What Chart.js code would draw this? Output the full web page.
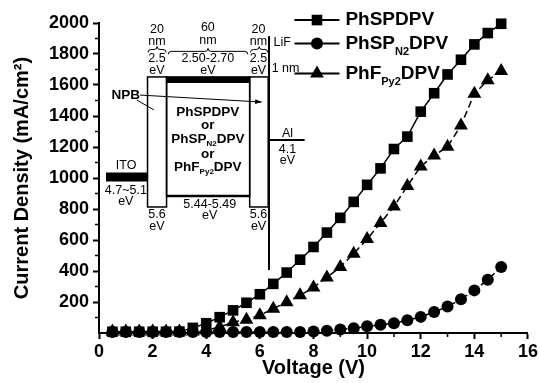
<!DOCTYPE html>
<html>
<head>
<meta charset="utf-8">
<script src="https://cdn.jsdelivr.net/npm/chart.js@4/dist/chart.umd.min.js"></script>
<style>
html, body { margin: 0; padding: 0; background: #fff; }
#wrap { width: 540px; height: 383px; position: relative; }
</style>
</head>
<body>
<div id="wrap"><canvas id="chartJV"></canvas></div>
<script>
// voltaje (V) y densidad de corriente (mA/cm2)
const voltaje = [0.5, 1, 1.5, 2, 2.5, 3, 3.5, 4, 4.5, 5, 5.5, 6, 6.5, 7, 7.5,
                 8, 8.5, 9, 9.5, 10, 10.5, 11, 11.5, 12, 12.5, 13, 13.5, 14, 14.5, 15];
const phSPDPV = [8, 8, 8, 8, 8, 9, 33, 63, 102, 146, 195, 250, 317, 390, 473,
                 555, 648, 743, 846, 956, 1062, 1187, 1267, 1428, 1547, 1668, 1763, 1862, 1935, 1995];
const phSPN2DPV = [6, 6, 6, 6, 6, 6, 6, 6, 6, 6, 6, 6, 6, 6, 6,
                   10, 15, 22, 31, 43, 53, 63, 82, 104, 135, 171, 217, 275, 344, 426];
const phFPy2DPV = [10, 10, 10, 10, 10, 10, 10, 18, 38, 70, 86, 115, 157, 199, 243,
                   294, 358, 426, 512, 606, 710, 816, 948, 1075, 1145, 1202, 1339, 1544, 1631, 1690];

const nombres = ['PhSPDPV', 'PhSP_{N2}DPV', 'PhF_{Py2}DPV'];
const ticksX = [0, 2, 4, 6, 8, 10, 12, 14, 16];
const ticksY = [200, 400, 600, 800, 1000, 1200, 1400, 1600, 1800, 2000];

// diagrama de niveles de energia (en unidades de los ejes)
const insetCajas = [[1.81, 1652, 2.52, 813], [2.52, 1652, 5.62, 884], [5.62, 1652, 6.31, 813]];
const insetLineas = [
  [0.26, 1006, 1.79, 1006, 9],
  [2.52, 1632, 5.62, 1632, 6],
  [2.52, 884, 5.62, 884, 2.5],
  [6.34, 1915, 6.34, 406, 2],
  [6.34, 1245, 7.67, 1245, 2],
  [1.41, 1503, 2.05, 1439, 1]
];
const insetLlaves = [[1.83, 2.5, 1829], [2.58, 5.55, 1817], [5.65, 6.3, 1829]];
const insetTextos = [
  ['ITO', 1.01, 1081, 'n'], ['4.7~5.1', 1.0, 919, 'n'], ['eV', 1.0, 845, 'n'],
  ['20', 2.16, 1955, 'n'], ['nm', 2.16, 1879, 'n'], ['2.5', 2.16, 1771, 'n'], ['eV', 2.16, 1694, 'n'],
  ['60', 4.06, 1968, 'n'], ['nm', 4.06, 1888, 'n'], ['2.50-2.70', 4.06, 1771, 'n'], ['eV', 4.06, 1694, 'n'],
  ['20', 5.95, 1955, 'n'], ['nm', 5.95, 1879, 'n'], ['2.5', 5.95, 1771, 'n'], ['eV', 5.95, 1694, 'n'],
  ['Al', 7.03, 1290, 'n'], ['4.1', 7.03, 1181, 'n'], ['eV', 7.03, 1110, 'n'],
  ['5.6', 2.16, 761, 'n'], ['eV', 2.16, 684, 'n'],
  ['5.44-5.49', 4.13, 826, 'n'], ['eV', 4.13, 755, 'n'],
  ['5.6', 5.95, 761, 'n'], ['eV', 5.95, 684, 'n'],
  ['NPB', 1.0, 1535, 'b'],
  ['PhSPDPV', 4.06, 1425, 'b'], ['or', 4.06, 1337, 'b'], ['PhSP_{N2}DPV', 4.06, 1250, 'b'],
  ['or', 4.06, 1155, 'b'], ['PhF_{Py2}DPV', 4.06, 1068, 'b']
];
const insetIzq = [['LiF', 6.51, 1874], ['1 nm', 6.44, 1706]];
const leyendaFilas = [2019, 1868, 1674];

const FUENTE = '"Liberation Sans", Arial, sans-serif';

function puntos(vals) {
  return voltaje.map((v, i) => ({ x: v, y: vals[i] }));
}

function partes(s) {
  const out = [];
  const re = /_\{([^}]*)\}/g;
  let last = 0, m;
  while ((m = re.exec(s))) {
    if (m.index > last) out.push({ t: s.slice(last, m.index), sub: false });
    out.push({ t: m[1], sub: true });
    last = re.lastIndex;
  }
  if (last < s.length) out.push({ t: s.slice(last), sub: false });
  return out;
}

function textoRico(ctx, s, x, y, size, bold, align, bajada) {
  const p = partes(s);
  const f = sz => `${bold ? 'bold ' : ''}${sz}px ${FUENTE}`;
  const subSz = Math.round(size * 0.6);
  const off = size * (bajada || 0.45);
  let w = 0;
  p.forEach(q => { ctx.font = f(q.sub ? subSz : size); q.w = ctx.measureText(q.t).width; w += q.w; });
  let cx = align === 'center' ? x - w / 2 : (align === 'right' ? x - w : x);
  ctx.textBaseline = 'middle';
  ctx.textAlign = 'left';
  p.forEach(q => {
    ctx.font = f(q.sub ? subSz : size);
    ctx.fillText(q.t, cx, q.sub ? y + off : y);
    cx += q.w;
  });
}

function llave(ctx, x1, x2, y) {
  const xm = (x1 + x2) / 2;
  ctx.beginPath();
  ctx.moveTo(x1, y + 3);
  ctx.quadraticCurveTo(x1, y, x1 + 3, y);
  ctx.lineTo(xm - 3, y);
  ctx.quadraticCurveTo(xm, y, xm, y - 3);
  ctx.quadraticCurveTo(xm, y, xm + 3, y);
  ctx.lineTo(x2 - 3, y);
  ctx.quadraticCurveTo(x2, y, x2, y + 3);
  ctx.stroke();
}

const dibujoExtra = {
  id: 'dibujoExtra',
  beforeDatasetsDraw(chart) {
    const ctx = chart.ctx;
    const X = v => chart.scales.x.getPixelForValue(v);
    const Y = v => chart.scales.y.getPixelForValue(v);
    ctx.save();
    ctx.strokeStyle = '#000';
    ctx.fillStyle = '#000';
    ctx.lineWidth = 1.5;
    insetCajas.forEach(c => {
      ctx.strokeRect(X(c[0]), Y(c[1]), X(c[2]) - X(c[0]), Y(c[3]) - Y(c[1]));
    });
    insetLineas.forEach(l => {
      ctx.lineWidth = l[4];
      ctx.beginPath();
      ctx.moveTo(X(l[0]), Y(l[1]));
      ctx.lineTo(X(l[2]), Y(l[3]));
      ctx.stroke();
    });
    // flecha NPB
    const ax1 = X(1.53), ay1 = Y(1535), ax2 = X(6.07), ay2 = Y(1490);
    ctx.lineWidth = 1;
    ctx.beginPath(); ctx.moveTo(ax1, ay1); ctx.lineTo(ax2, ay2); ctx.stroke();
    const ang = Math.atan2(ay2 - ay1, ax2 - ax1);
    ctx.beginPath();
    ctx.moveTo(ax2, ay2);
    ctx.lineTo(ax2 - 7 * Math.cos(ang - 0.35), ay2 - 7 * Math.sin(ang - 0.35));
    ctx.lineTo(ax2 - 7 * Math.cos(ang + 0.35), ay2 - 7 * Math.sin(ang + 0.35));
    ctx.closePath(); ctx.fill();
    ctx.lineWidth = 1;
    insetLlaves.forEach(b => llave(ctx, X(b[0]), X(b[1]), Y(b[2])));
    insetTextos.forEach(t => {
      if (t[3] === 'b') textoRico(ctx, t[0], X(t[1]), Y(t[2]), 13.5, true, 'center', 0.3);
      else textoRico(ctx, t[0], X(t[1]), Y(t[2]), 12.5, false, 'center');
    });
    insetIzq.forEach(t => textoRico(ctx, t[0], X(t[1]), Y(t[2]), 12.5, false, 'left'));
    ctx.restore();
  },
  afterDraw(chart) {
    const ctx = chart.ctx;
    const a = chart.chartArea;
    const X = v => chart.scales.x.getPixelForValue(v);
    const Y = v => chart.scales.y.getPixelForValue(v);
    ctx.save();
    ctx.strokeStyle = '#000';
    ctx.fillStyle = '#000';
    // ticks menores
    ctx.lineWidth = 1.5;
    ctx.beginPath();
    for (let v = 1; v < 16; v += 2) { ctx.moveTo(X(v), a.bottom); ctx.lineTo(X(v), a.bottom + 4); }
    for (let v = 100; v < 2000; v += 200) { ctx.moveTo(a.left, Y(v)); ctx.lineTo(a.left - 4, Y(v)); }
    ctx.stroke();
    // leyenda
    chart.data.datasets.forEach((ds, i) => {
      const y = Y(leyendaFilas[i]);
      ctx.lineWidth = 2;
      ctx.setLineDash([]);
      ctx.beginPath(); ctx.moveTo(X(7.29), y); ctx.lineTo(X(8.97), y); ctx.stroke();
      Chart.helpers.drawPoint(ctx, { pointStyle: ds.pointStyle, radius: ds.pointRadius, borderWidth: 0 }, X(8.13), y);
      textoRico(ctx, nombres[i], X(9.19), y, 19, true, 'left');
    });
    ctx.restore();
  }
};

const comun = {
  showLine: true, borderColor: '#000', backgroundColor: '#000',
  borderWidth: 1.5, pointBorderWidth: 0, clip: false, tension: 0
};

new Chart(document.getElementById('chartJV'), {
  type: 'scatter',
  data: {
    datasets: [
      Object.assign({}, comun, { label: 'PhSPDPV', data: puntos(phSPDPV), pointStyle: 'rect', pointRadius: 7.5 }),
      Object.assign({}, comun, { label: 'PhSPN2DPV', data: puntos(phSPN2DPV), pointStyle: 'circle', pointRadius: 6, borderDash: [4, 3] }),
      Object.assign({}, comun, { label: 'PhFPy2DPV', data: puntos(phFPy2DPV), pointStyle: 'triangle', pointRadius: 8, borderDash: [7, 4] })
    ]
  },
  options: {
    responsive: true,
    maintainAspectRatio: false,
    animation: false,
    devicePixelRatio: 1,
    layout: { padding: { left: 0, right: 11, top: 23, bottom: 0 } },
    plugins: { legend: { display: false }, tooltip: { enabled: false } },
    scales: {
      x: {
        type: 'linear', min: 0, max: 16,
        afterBuildTicks: s => { s.ticks = ticksX.map(v => ({ value: v })); },
        afterFit: s => { s.height = 50; },
        border: { display: true, color: '#000', width: 2 },
        grid: { drawOnChartArea: false, tickLength: 6, tickWidth: 2, tickColor: '#000' },
        ticks: { color: '#000', padding: 2, callback: v => String(v),
                 font: { family: FUENTE, size: 18, weight: 'bold' } },
        title: { display: true, text: 'Voltage (V)', color: '#000', padding: { top: 0, bottom: 3 },
                 font: { family: FUENTE, size: 20, weight: 'bold', lineHeight: 1.2 } }
      },
      y: {
        type: 'linear', min: 0, max: 2000,
        afterBuildTicks: s => { s.ticks = ticksY.map(v => ({ value: v })); },
        afterFit: s => { s.width = 99; },
        border: { display: true, color: '#000', width: 2 },
        grid: { drawOnChartArea: false, tickLength: 6, tickWidth: 2, tickColor: '#000' },
        ticks: { color: '#000', padding: 4, callback: v => String(v),
                 font: { family: FUENTE, size: 18, weight: 'bold' } },
        title: { display: true, text: 'Current Density (mA/cm²)', color: '#000', padding: { top: 10, bottom: 0 },
                 font: { family: FUENTE, size: 20, weight: 'bold', lineHeight: 1.2 } }
      }
    }
  },
  plugins: [dibujoExtra]
});
</script>
</body>
</html>
